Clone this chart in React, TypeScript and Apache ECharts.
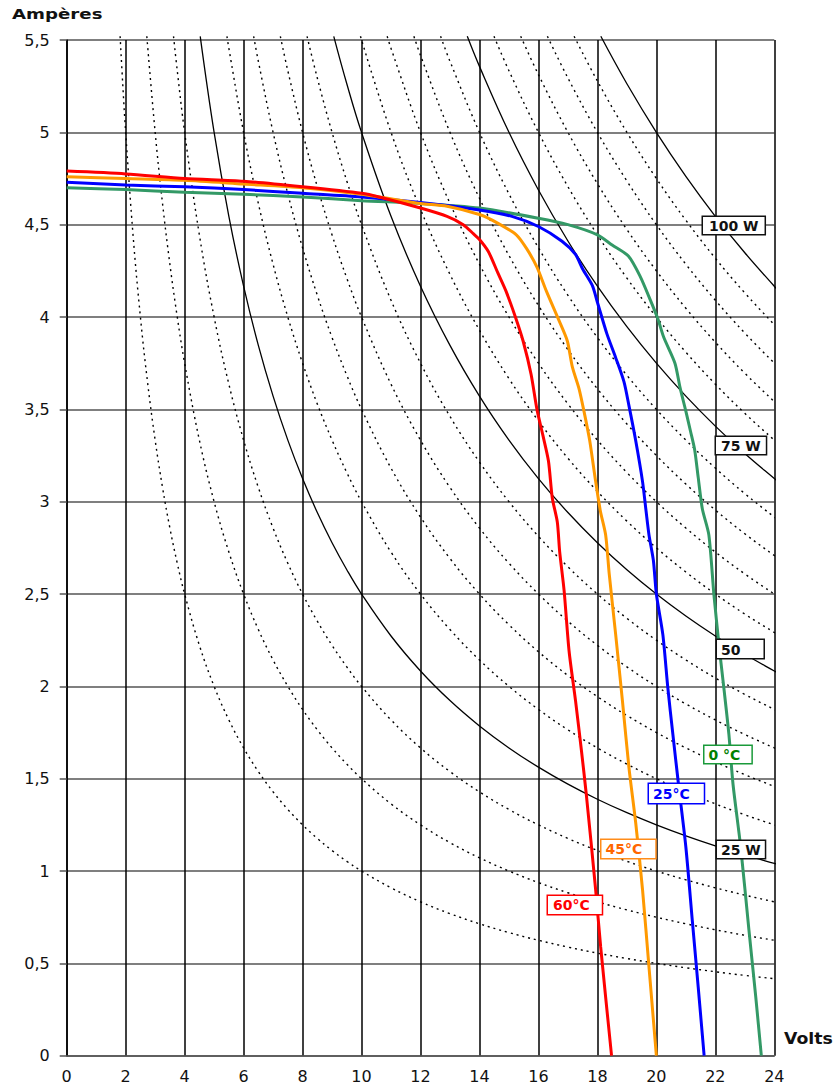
import React, { useEffect, useRef } from "react";
import * as echarts from "echarts";

// ---- Data ----
const xTickLabels = ["0", "2", "4", "6", "8", "10", "12", "14", "16", "18", "20", "22", "24"];
const yTickLabels = ["0", "0,5", "1", "1,5", "2", "2,5", "3", "3,5", "4", "4,5", "5", "5,5"];

// I-V curves (volts, amperes) per cell temperature
const volts0C = [0, 2, 4, 6, 8, 10, 12, 14, 16, 17, 18, 18.5, 19.05, 19.45, 19.8, 20.05, 20.25, 20.63, 20.8, 21.0, 21.16, 21.3, 21.42, 21.56, 21.78, 21.95, 22.12, 22.29, 22.46, 22.6, 22.86, 23.14, 23.37, 23.56];
const amps0C = [4.70, 4.69, 4.675, 4.665, 4.65, 4.63, 4.615, 4.59, 4.535, 4.50, 4.445, 4.39, 4.33, 4.22, 4.09, 3.99, 3.89, 3.75, 3.62, 3.49, 3.38, 3.28, 3.13, 2.96, 2.82, 2.5, 2.23, 1.99, 1.74, 1.47, 1.13, 0.68, 0.32, 0];

const volts25C = [0, 2, 4, 6, 8, 10, 12, 14, 15.1, 16, 16.8, 17.25, 17.5, 17.83, 18.0, 18.32, 18.62, 18.9, 19.07, 19.3, 19.53, 19.65, 19.75, 19.9, 20.0, 20.22, 20.39, 20.56, 20.75, 21.0, 21.22, 21.42, 21.62];
const amps25C = [4.73, 4.715, 4.705, 4.69, 4.67, 4.65, 4.62, 4.58, 4.545, 4.49, 4.41, 4.34, 4.26, 4.17, 4.08, 3.91, 3.78, 3.65, 3.52, 3.33, 3.11, 2.95, 2.82, 2.68, 2.5, 2.28, 1.99, 1.74, 1.47, 1.13, 0.73, 0.37, 0];

const volts45C = [0, 2, 4, 6, 8, 10, 12, 12.9, 14, 14.6, 15.25, 15.6, 15.95, 16.27, 16.7, 16.98, 17.15, 17.38, 17.57, 17.74, 17.94, 18.1, 18.28, 18.4, 18.62, 18.85, 19.07, 19.3, 19.53, 19.75, 20.0];
const amps45C = [4.76, 4.75, 4.74, 4.72, 4.70, 4.665, 4.615, 4.60, 4.555, 4.51, 4.445, 4.37, 4.27, 4.14, 3.98, 3.87, 3.73, 3.61, 3.47, 3.33, 3.11, 2.95, 2.82, 2.61, 2.28, 1.92, 1.56, 1.26, 0.90, 0.48, 0];

const volts60C = [0, 2, 4, 6, 8, 10, 10.6, 12, 12.9, 13.45, 13.8, 14.0, 14.3, 14.62, 14.9, 15.23, 15.48, 15.75, 15.95, 16.15, 16.34, 16.47, 16.64, 16.72, 16.87, 17.04, 17.26, 17.46, 17.62, 17.94, 18.11, 18.48];
const amps60C = [4.79, 4.775, 4.75, 4.735, 4.705, 4.67, 4.65, 4.59, 4.545, 4.50, 4.45, 4.42, 4.355, 4.24, 4.14, 3.995, 3.87, 3.69, 3.50, 3.36, 3.22, 3.02, 2.89, 2.73, 2.52, 2.19, 1.92, 1.65, 1.42, 0.90, 0.59, 0];

const tempNames = ["0 °C", "25°C", "45°C", "60°C"];
const tempColors = ["#339966", "#0000ff", "#ff9900", "#ff0000"];

// constant-power curves (watts)
const isoPowerWatts = [10, 15, 20, 25, 30, 35, 40, 45, 50, 55, 60, 65, 70, 75, 80, 85, 90, 95, 100];
const solidPowerWatts = [25, 50, 75, 100];
const isoSampleVolts = [1.9, 2, 2.25, 2.5, 2.75, 3, 3.25, 3.5, 3.75, 4, 4.5, 5, 5.5, 6, 6.5, 7, 7.5, 8, 8.5, 9, 9.5, 10, 11, 12, 13, 14, 15, 16, 17, 18, 19, 20, 21, 22, 23, 24, 24.2];
const isoTopAmps = 5.52;

export default function App() {
  const ref = useRef<HTMLDivElement>(null);
  useEffect(() => {
    if (!ref.current) return;
    const chart = echarts.init(ref.current, undefined, { renderer: "svg" });
    const font = '"DejaVu Sans", "Liberation Sans", Arial, sans-serif';

    const isoSeries = isoPowerWatts.map((p) => {
      const v0 = p / isoTopAmps;
      const pts: number[][] = [[v0, isoTopAmps]];
      isoSampleVolts.forEach((v) => {
        if (v > v0 + 0.05) pts.push([v, p / v]);
      });
      const solid = solidPowerWatts.includes(p);
      return {
        type: "line",
        name: p + " W",
        data: pts,
        showSymbol: false,
        smooth: 0.4,
        clip: false,
        silent: true,
        z: 2,
        lineStyle: solid
          ? { color: "#000", width: 1.3, type: "solid" }
          : { color: "#000", width: 1.4, type: [2, 4] },
      };
    });

    const tempVolts = [volts0C, volts25C, volts45C, volts60C];
    const tempAmps = [amps0C, amps25C, amps45C, amps60C];
    const tempSeries = tempNames.map((n, i) => ({
      type: "line",
      name: n,
      data: tempVolts[i].map((v, j) => [v, tempAmps[i][j]]),
      showSymbol: false,
      smooth: 0.25,
      silent: true,
      z: 3,
      lineStyle: { color: tempColors[i], width: 3 },
    }));

    const boxFont = 'bold 14px "DejaVu Sans", sans-serif';
    const box = (
      text: string,
      x: number,
      y: number,
      fill: string,
      border: string,
      padding: number[]
    ) => ({
      type: "text",
      x,
      y,
      z: 10,
      style: {
        text,
        font: boxFont,
        fill,
        backgroundColor: "#fff",
        borderColor: border,
        borderWidth: 1.5,
        padding,
        lineHeight: 15,
        verticalAlign: "top",
        align: "left",
      },
    });

    chart.setOption({
      animation: false,
      grid: { left: 66.7, right: 61.7, top: 40, bottom: 30.3, containLabel: false },
      xAxis: {
        type: "value",
        min: 0,
        max: 24,
        interval: 2,
        axisLine: { show: true, lineStyle: { color: "#555", width: 1.5 } },
        axisTick: { show: false },
        axisLabel: {
          margin: 13,
          fontFamily: font,
          fontSize: 16,
          color: "#111",
          formatter: (v: number) => xTickLabels[Math.round(v / 2)] ?? "",
        },
        splitLine: { show: true, lineStyle: { color: "#000", width: 1.5 } },
      },
      yAxis: {
        type: "value",
        min: 0,
        max: 5.5,
        interval: 0.5,
        axisLine: { show: true, onZero: false, lineStyle: { color: "#000", width: 1.5 } },
        axisTick: { show: true, length: 7, lineStyle: { color: "#555", width: 1.5 } },
        axisLabel: {
          margin: 17,
          fontFamily: font,
          fontSize: 16,
          color: "#111",
          formatter: (v: number) => yTickLabels[Math.round(v / 0.5)] ?? "",
        },
        splitLine: { show: true, lineStyle: { color: "#555", width: 1.5 } },
      },
      series: [...isoSeries, ...tempSeries],
      graphic: [
        {
          type: "text",
          x: 12,
          y: 14,
          scaleX: 1.3,
          style: {
            text: "Ampères",
            font: 'bold 14px "DejaVu Sans", sans-serif',
            fill: "#111",
            verticalAlign: "middle",
            align: "left",
          },
        },
        {
          type: "text",
          x: 784,
          y: 1039,
          scaleX: 1.08,
          style: {
            text: "Volts",
            font: 'bold 16px "DejaVu Sans", sans-serif',
            fill: "#111",
            verticalAlign: "middle",
            align: "left",
          },
        },
        box("100 W", 703, 217, "#111", "#111", [1, 6, 1, 6]),
        box("75 W", 716, 437, "#111", "#111", [1, 5, 1, 5]),
        box("50", 717, 640, "#111", "#111", [2, 23, 1, 4]),
        box("25 W", 717, 841, "#111", "#111", [1, 4, 1, 4]),
        box(tempNames[0], 704.5, 746, "#008000", "#1a9a3a", [1, 11, 1, 4]),
        box(tempNames[1], 649, 784, "#0000ff", "#0000ff", [2, 14, 2, 4]),
        box(tempNames[2], 601.5, 840, "#ff6600", "#ff8c1a", [1, 13, 2, 4]),
        box(tempNames[3], 548, 896, "#ff0000", "#ff0000", [1, 12, 2, 5]),
      ],
    });
    return () => chart.dispose();
  }, []);
  return (
    <div
      ref={ref}
      style={{ position: "absolute", left: 0, top: 0, width: 836, height: 1086, background: "#fff" }}
    />
  );
}
